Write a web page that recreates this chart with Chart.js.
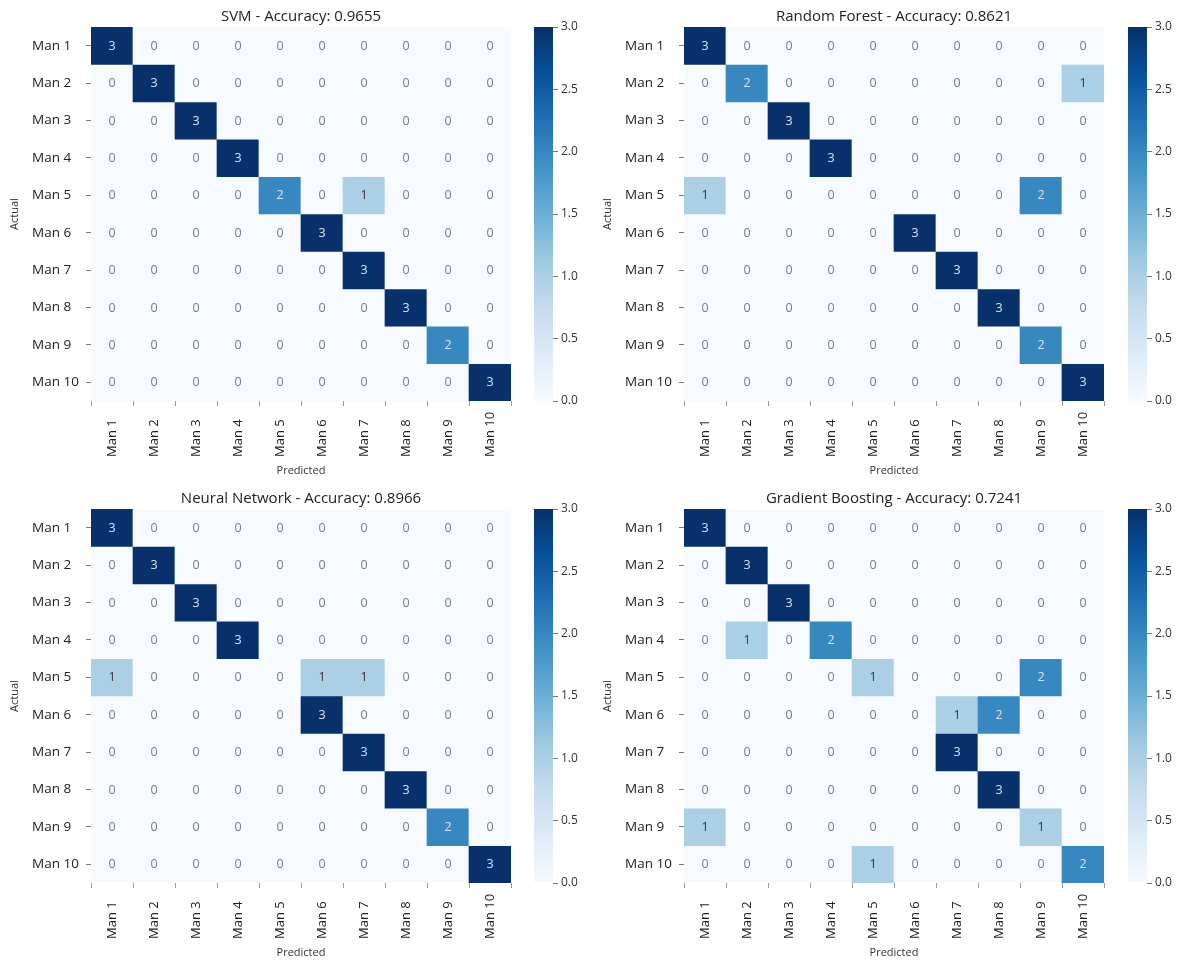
<!DOCTYPE html>
<html>
<head>
<meta charset="utf-8">
<script src="https://cdn.jsdelivr.net/npm/chart.js@4.4.1/dist/chart.umd.min.js"></script>
<style>
  html, body { margin: 0; padding: 0; background: #ffffff; }
  body { width: 1180px; height: 962px; position: relative; overflow: hidden; }
  canvas { position: absolute; }
</style>
</head>
<body>
<canvas id="hm0" width="520" height="480" style="left:0px;top:0px"></canvas>
<canvas id="cb0" width="52" height="480" style="left:534px;top:0px"></canvas>
<canvas id="hm1" width="520" height="480" style="left:593px;top:0px"></canvas>
<canvas id="cb1" width="52" height="480" style="left:1128px;top:0px"></canvas>
<canvas id="hm2" width="520" height="480" style="left:0px;top:482px"></canvas>
<canvas id="cb2" width="52" height="480" style="left:534px;top:482px"></canvas>
<canvas id="hm3" width="520" height="480" style="left:593px;top:482px"></canvas>
<canvas id="cb3" width="52" height="480" style="left:1128px;top:482px"></canvas>
<script>
// Class labels (rows = actual, columns = predicted)
const classLabels = ['Man 1', 'Man 2', 'Man 3', 'Man 4', 'Man 5', 'Man 6', 'Man 7', 'Man 8', 'Man 9', 'Man 10'];

const modelNames = ['SVM', 'Random Forest', 'Neural Network', 'Gradient Boosting'];
const accuracies = ['0.9655', '0.8621', '0.8966', '0.7241'];

// Confusion matrices, one row per actual class
const svmMatrix = [
  [3,0,0,0,0,0,0,0,0,0],
  [0,3,0,0,0,0,0,0,0,0],
  [0,0,3,0,0,0,0,0,0,0],
  [0,0,0,3,0,0,0,0,0,0],
  [0,0,0,0,2,0,1,0,0,0],
  [0,0,0,0,0,3,0,0,0,0],
  [0,0,0,0,0,0,3,0,0,0],
  [0,0,0,0,0,0,0,3,0,0],
  [0,0,0,0,0,0,0,0,2,0],
  [0,0,0,0,0,0,0,0,0,3]
];
const randomForestMatrix = [
  [3,0,0,0,0,0,0,0,0,0],
  [0,2,0,0,0,0,0,0,0,1],
  [0,0,3,0,0,0,0,0,0,0],
  [0,0,0,3,0,0,0,0,0,0],
  [1,0,0,0,0,0,0,0,2,0],
  [0,0,0,0,0,3,0,0,0,0],
  [0,0,0,0,0,0,3,0,0,0],
  [0,0,0,0,0,0,0,3,0,0],
  [0,0,0,0,0,0,0,0,2,0],
  [0,0,0,0,0,0,0,0,0,3]
];
const neuralNetMatrix = [
  [3,0,0,0,0,0,0,0,0,0],
  [0,3,0,0,0,0,0,0,0,0],
  [0,0,3,0,0,0,0,0,0,0],
  [0,0,0,3,0,0,0,0,0,0],
  [1,0,0,0,0,1,1,0,0,0],
  [0,0,0,0,0,3,0,0,0,0],
  [0,0,0,0,0,0,3,0,0,0],
  [0,0,0,0,0,0,0,3,0,0],
  [0,0,0,0,0,0,0,0,2,0],
  [0,0,0,0,0,0,0,0,0,3]
];
const gradientBoostingMatrix = [
  [3,0,0,0,0,0,0,0,0,0],
  [0,3,0,0,0,0,0,0,0,0],
  [0,0,3,0,0,0,0,0,0,0],
  [0,1,0,2,0,0,0,0,0,0],
  [0,0,0,0,1,0,0,0,2,0],
  [0,0,0,0,0,0,1,2,0,0],
  [0,0,0,0,0,0,3,0,0,0],
  [0,0,0,0,0,0,0,3,0,0],
  [1,0,0,0,0,0,0,0,1,0],
  [0,0,0,0,1,0,0,0,0,2]
];

// Colour bar range and ticks
const colorMin = 0;
const colorMax = 3;
const colorTickStep = 0.5;

// Sequential blue colour ramp
const BLUES = ['#f7fbff', '#deebf7', '#c6dbef', '#9ecae1', '#6baed6', '#4292c6', '#2171b5', '#08519c', '#08306b'];

const FONT = "'Open Sans', 'Noto Sans', sans-serif";

function hexToRgb(h) {
  return [parseInt(h.slice(1, 3), 16), parseInt(h.slice(3, 5), 16), parseInt(h.slice(5, 7), 16)];
}
function blues(t) {
  t = Math.max(0, Math.min(1, t));
  const p = t * (BLUES.length - 1);
  const i = Math.min(Math.floor(p), BLUES.length - 2);
  const f = p - i;
  const a = hexToRgb(BLUES[i]), b = hexToRgb(BLUES[i + 1]);
  const c = a.map((v, k) => Math.round(v + (b[k] - v) * f));
  return `rgb(${c[0]},${c[1]},${c[2]})`;
}
function textColorFor(v) {
  if (v >= 2) return '#dbe6f4';
  if (v >= 1) return '#333333';
  return '#7a7a7a';
}

// Writes each count in the middle of its cell
const cellValuePlugin = {
  id: 'cellValues',
  afterDatasetsDraw(chart) {
    const ctx = chart.ctx;
    ctx.save();
    ctx.font = `12.5px ${FONT}`;
    ctx.textAlign = 'center';
    ctx.textBaseline = 'middle';
    chart.data.datasets.forEach((ds, di) => {
      const meta = chart.getDatasetMeta(di);
      meta.data.forEach((bar, ci) => {
        const v = ds.counts[ci];
        const p = bar.getProps(['x', 'y', 'base'], true);
        ctx.fillStyle = textColorFor(v);
        ctx.fillText(String(v), p.x, (p.y + p.base) / 2 + 0.5);
      });
    });
    ctx.restore();
  }
};

// Vertical predicted-class labels, starting at a common baseline under the grid
const verticalLabelsPlugin = {
  id: 'verticalLabels',
  afterDraw(chart) {
    const scale = chart.scales.x;
    const ctx = chart.ctx;
    const startY = chart.chartArea.bottom + 56;
    ctx.save();
    ctx.font = `13px ${FONT}`;
    ctx.fillStyle = '#222222';
    ctx.textAlign = 'left';
    ctx.textBaseline = 'middle';
    chart.data.labels.forEach((lab, i) => {
      const x = scale.getPixelForTick(i);
      ctx.save();
      ctx.translate(x + 0.5, startY);
      ctx.rotate(-Math.PI / 2);
      ctx.fillText(lab, 0, 0);
      ctx.restore();
    });
    ctx.restore();
  }
};

function buildHeatmap(canvasId, matrix, title) {
  const datasets = matrix.map((row, r) => ({
    label: classLabels[r],
    data: row.map(() => [r, r + 1]),
    counts: row,
    backgroundColor: row.map(v => blues((v - colorMin) / (colorMax - colorMin))),
    borderWidth: 0,
    grouped: false,
    barPercentage: 1,
    categoryPercentage: 1
  }));
  new Chart(document.getElementById(canvasId), {
    type: 'bar',
    data: { labels: classLabels, datasets },
    plugins: [cellValuePlugin, verticalLabelsPlugin],
    options: {
      responsive: false,
      animation: false,
      devicePixelRatio: 1,
      layout: { padding: { left: 32, right: 9, top: 0, bottom: 0 } },
      plugins: {
        legend: { display: false },
        tooltip: { enabled: false },
        title: {
          display: true,
          fullSize: false,
          text: title,
          color: '#222222',
          font: { family: FONT, size: 15, weight: 'normal' },
          padding: { top: 8, bottom: 1 }
        }
      },
      scales: {
        x: {
          type: 'category',
          offset: true,
          grid: { display: true, drawOnChartArea: false, drawTicks: true, tickLength: 5, color: '#9a9a9a' },
          border: { display: false },
          ticks: { display: false },
          title: {
            display: true,
            text: 'Predicted',
            color: '#333333',
            font: { family: FONT, size: 11 },
            padding: { top: 0, bottom: 2.4 }
          },
          afterFit(scale) { scale.height = 79; }
        },
        y: {
          type: 'linear',
          reverse: true,
          min: 0,
          max: classLabels.length,
          afterBuildTicks(scale) {
            scale.ticks = classLabels.map((_, i) => ({ value: i + 0.5 }));
          },
          ticks: {
            autoSkip: false,
            crossAlign: 'far',
            color: '#222222',
            font: { family: FONT, size: 13.5 },
            callback: (value, index) => classLabels[index]
          },
          grid: { display: true, drawOnChartArea: false, drawTicks: true, tickLength: 5, color: '#777777' },
          border: { display: false },
          title: {
            display: true,
            text: 'Actual',
            color: '#333333',
            font: { family: FONT, size: 11 },
            padding: { top: -23.6, bottom: 0 }
          },
          afterFit(scale) { scale.width = 59; }
        }
      }
    }
  });
}

function buildColorbar(canvasId) {
  new Chart(document.getElementById(canvasId), {
    type: 'bar',
    data: {
      labels: [''],
      datasets: [{
        data: [[colorMin, colorMax]],
        borderWidth: 0,
        barPercentage: 1,
        categoryPercentage: 1,
        backgroundColor(ctx) {
          const chart = ctx.chart;
          const y = chart.scales.y;
          if (!chart.chartArea || !y) return BLUES[BLUES.length - 1];
          const g = chart.ctx.createLinearGradient(0, y.getPixelForValue(colorMin), 0, y.getPixelForValue(colorMax));
          BLUES.forEach((c, i) => g.addColorStop(i / (BLUES.length - 1), c));
          return g;
        }
      }]
    },
    options: {
      responsive: false,
      animation: false,
      devicePixelRatio: 1,
      layout: { padding: { left: 0, right: 0, top: 27, bottom: 79 } },
      plugins: { legend: { display: false }, tooltip: { enabled: false }, title: { display: false } },
      scales: {
        x: { display: false, offset: true },
        y: {
          type: 'linear',
          position: 'right',
          min: colorMin,
          max: colorMax,
          ticks: {
            stepSize: colorTickStep,
            color: '#333333',
            padding: 3,
            font: { family: FONT, size: 12 },
            callback: v => Number(v).toFixed(1)
          },
          grid: { display: true, drawOnChartArea: false, drawTicks: true, tickLength: 5, color: '#777777' },
          border: { display: false },
          afterFit(scale) { scale.width = 33; }
        }
      }
    }
  });
}

const matrices = [svmMatrix, randomForestMatrix, neuralNetMatrix, gradientBoostingMatrix];
matrices.forEach((m, i) => {
  buildHeatmap('hm' + i, m, `${modelNames[i]} - Accuracy: ${accuracies[i]}`);
  buildColorbar('cb' + i);
});
</script>
</body>
</html>
